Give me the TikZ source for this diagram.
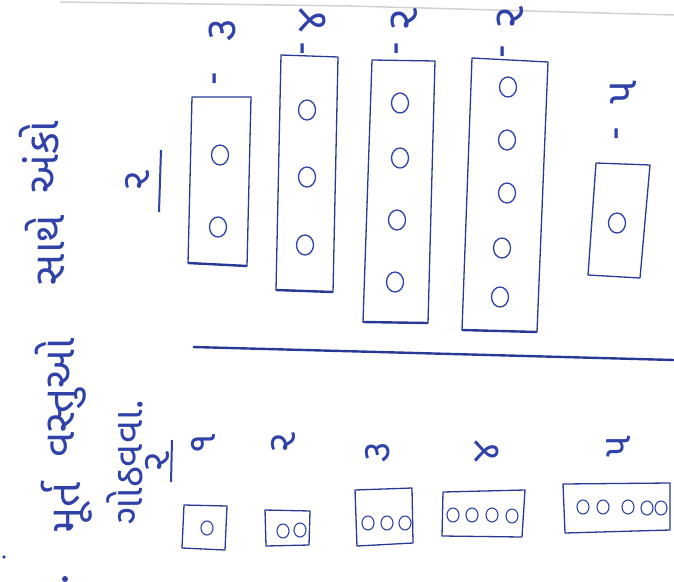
\documentclass[tikz,border=0pt]{standalone}
\usepackage{fontspec}
\newfontfamily\guj[Script=Gujarati]{Noto Sans Gujarati UI}
\definecolor{ink}{RGB}{48,66,168}
\definecolor{boxink}{RGB}{40,58,150}
\begin{document}
\begin{tikzpicture}[x=1pt,y=-1pt,
  txt/.style={text=ink,inner sep=0pt,font=\guj},
  head/.style={txt,font=\guj\fontsize{44}{48}\selectfont,rotate=90,anchor=base},
  digit/.style={txt,font=\guj\fontsize{44}{48}\selectfont,rotate=90},
  lowdigit/.style={txt,font=\guj\fontsize{40}{44}\selectfont,rotate=90},
  dashmark/.style={txt,font=\guj\fontsize{40}{44}\selectfont,rotate=90},
  boxline/.style={draw=boxink,line width=1.3pt,line join=round},
  dot/.style={draw=ink,line width=1.3pt},
  smalldot/.style={draw=ink,line width=1.1pt}]
\useasboundingbox (0,0) rectangle (674,581);
\fill[white] (0,0) rectangle (674,581);
% scan fold line at top
\draw[gray!35,line width=1.5pt] (60,2) -- (350,6) -- (674,15);
% title, line 1 and 2
\node[head] (w1) at (80,508) {મૂર્ત};
\node[head] (w2) at (74,398) {વસ્તુઓ};
\node[head] (w3) at (64,250) {સાથે};
\node[head] (w4) at (58,157) {અંકો};
\node[txt,font=\guj\fontsize{40}{44}\selectfont,rotate=90,anchor=base] (w5) at (142,462) {ગોઠવવા.};
% section headers
\node[lowdigit] (h1) at (157,461) {૨};
\coordinate (h1a) at (172,440); \coordinate (h1b) at (171,482);
\draw[ink,line width=2pt] (h1a) -- (h1b);
\node[lowdigit] (h2) at (137,180) {૨};
\coordinate (h2a) at (161,150); \coordinate (h2b) at (159,212);
\draw[ink,line width=2pt] (h2a) -- (h2b);
% separating line
\coordinate (sepL) at (193,347); \coordinate (sepR) at (674,360);
\draw[boxink,line width=2.4pt] (sepL) -- (sepR);
% section 2 boxes
\draw[boxline] (192,97) -- (251,97) -- (247,266) -- (188,263) -- cycle;
\draw[boxline] (281,55) -- (338,57) -- (333,292) -- (276,290) -- cycle;
\draw[boxline] (372,60) -- (435,61) -- (428,323) -- (363,322) -- cycle;
\draw[boxline] (472,58) -- (548,62) -- (537,332) -- (462,330) -- cycle;
\draw[boxline] (596,163) -- (650,165) -- (640,278) -- (588,275) -- cycle;
\draw[boxink,line width=2.4pt] (188,263) -- (247,266);
\draw[boxink,line width=2.4pt] (276,290) -- (333,292);
\draw[boxink,line width=2.4pt] (363,322) -- (428,323);
\draw[boxink,line width=2.4pt] (462,330) -- (537,332);
% circles section 2
\foreach \p in {(220,155),(218,227),
                (307,110),(307,177),(305,245),
                (400,103),(400,158),(397,220),(395,282),
                (508,87),(507,140),(507,193),(502,248),(500,297),
                (617,223)}
  \draw[dot] \p ellipse[x radius=8.5,y radius=10];
% labels section 2
\node[digit] (la) at (222,30) {૩};
\node[digit] (lb) at (312,20) {૪};
\node[digit] (lc) at (404,19) {૨};
\node[digit] (ld) at (510,17) {૨};
\node[digit] (le) at (623,92) {૫};
\node[dashmark] (da) at (220,79) {-};
\node[dashmark] (db) at (308,49) {-};
\node[dashmark] (dc) at (402,49) {-};
\node[dashmark] (dd) at (508,52) {-};
\node[dashmark] (de) at (622,134) {-};
% section 1 digits
\node[lowdigit] (n1) at (203,443) {૧};
\node[lowdigit] (n2) at (283,442) {૨};
\node[lowdigit] (n3) at (378,452) {૩};
\node[lowdigit] (n4) at (487,451) {૪};
\node[lowdigit] (n5) at (618,446) {૫};
% section 1 boxes
\draw[boxline] (184,505) -- (227,506) -- (225,550) -- (182,548) -- cycle;
\draw[boxline] (265,510) -- (310,511) -- (309,545) -- (266,546) -- cycle;
\draw[boxline] (355,490) -- (412,488) -- (413,543) -- (357,546) -- cycle;
\draw[boxline] (443,492) -- (525,490) -- (522,537) -- (442,536) -- cycle;
\draw[boxline] (563,484) -- (670,483) -- (670,530) -- (565,533) -- cycle;
\foreach \p in {(207,528),
                (283,531),(300,530),
                (368,523),(387,523),(405,523),
                (453,515),(472,515),(492,515),(512,516),
                (583,507),(603,507),(628,507),(647,508),(661,508)}
  \draw[smalldot] \p ellipse[x radius=6,y radius=7];
% specks
\fill[ink] (4,557) circle[radius=1.8];
\fill[ink] (65,579) circle[radius=3];
\end{tikzpicture}
\end{document}
